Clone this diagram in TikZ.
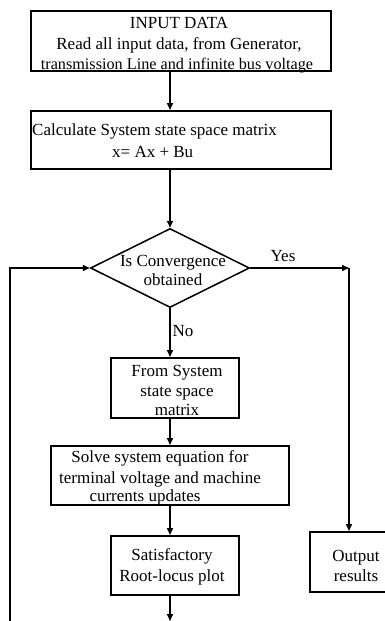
\documentclass[tikz,border=0pt]{standalone}
\usepackage{fontspec}
\setmainfont{Liberation Serif}
\usetikzlibrary{shapes.geometric,arrows.meta}
\begin{document}
\begin{tikzpicture}[x=1pt,y=-1pt,
  box/.style={draw,line width=1.5pt,inner sep=0pt,anchor=north west},
  txt/.style={inner sep=0pt,font=\fontsize{17}{20}\selectfont},
  flow/.style={line width=1.5pt,-{Triangle[length=7pt,width=6pt]}},
  plain/.style={line width=1.5pt}]
\useasboundingbox (0,0) rectangle (385,621);
\clip (0,0) rectangle (385,621);
% boxes
\node[box,minimum width=300pt,minimum height=60pt] (b1) at (30,10) {};
\node[box,minimum width=300pt,minimum height=58pt] (b2) at (30,110) {};
\node[draw,line width=1.5pt,diamond,inner sep=0pt,minimum width=159pt,minimum height=79pt] (d) at (170,268) {};
\node[box,minimum width=128pt,minimum height=60pt] (b3) at (110,357) {};
\node[box,minimum width=238pt,minimum height=59pt] (b4) at (50,445) {};
\node[box,minimum width=128pt,minimum height=59pt] (b5) at (110,535) {};
\node[box,minimum width=100pt,minimum height=60pt] (out) at (309,531) {};
% texts
\node[txt,anchor=base] (t1a) at (179,28.5) {INPUT DATA};
\node[txt,anchor=base] (t1b) at (179,49) {Read all input data, from Generator,};
\node[txt,anchor=base,font=\fontsize{16.2}{20}\selectfont] (t1c) at (177,69) {transmission Line and infinite bus voltage};
\node[txt,anchor=base west] (t2a) at (32,135) {Calculate System state space matrix};
\node[txt,anchor=base west] (t2b) at (112,157) {x= Ax + Bu};
\node[txt,anchor=base] (td1) at (173,266) {Is Convergence};
\node[txt,anchor=base] (td2) at (173,285) {obtained};
\node[txt,anchor=base] (yes) at (283,261) {Yes};
\node[txt,anchor=base] (no) at (183,336) {No};
\node[txt,anchor=base] (t3a) at (177,376) {From System};
\node[txt,anchor=base] (t3b) at (177,396) {state space};
\node[txt,anchor=base] (t3c) at (177,415) {matrix};
\node[txt,anchor=base] (t4a) at (160,462) {Solve system equation for};
\node[txt,anchor=base] (t4b) at (160,483) {terminal voltage and machine};
\node[txt,anchor=base] (t4c) at (145,501) {currents updates};
\node[txt,anchor=base] (t5a) at (172,560) {Satisfactory};
\node[txt,anchor=base] (t5b) at (172,581) {Root-locus plot};
\node[txt,anchor=base] (to1) at (356,561) {Output};
\node[txt,anchor=base] (to2) at (356,581) {results};
% connectors
\coordinate (yc) at (349,268);
\coordinate (bot) at (170,621);
\coordinate (lb) at (10,625);
\coordinate (lt) at (10,268);
\draw[flow] (b1.south -| 170,0) -- (b2.north -| 170,0);
\draw[flow] (b2.south -| 170,0) -- (d.north);
\draw[flow] (d.south) -- (b3.north -| 170,0);
\draw[flow] (b3.south -| 170,0) -- (b4.north -| 170,0);
\draw[flow] (b4.south -| 170,0) -- (b5.north -| 170,0);
\draw[flow] (b5.south -| 170,0) -- (bot);
\draw[flow] (d.east) -- (yc);
\draw[flow] (yc) -- (yc |- out.north);
\draw[flow] (lb) -- (lt) -- (d.west);
\end{tikzpicture}
\end{document}
